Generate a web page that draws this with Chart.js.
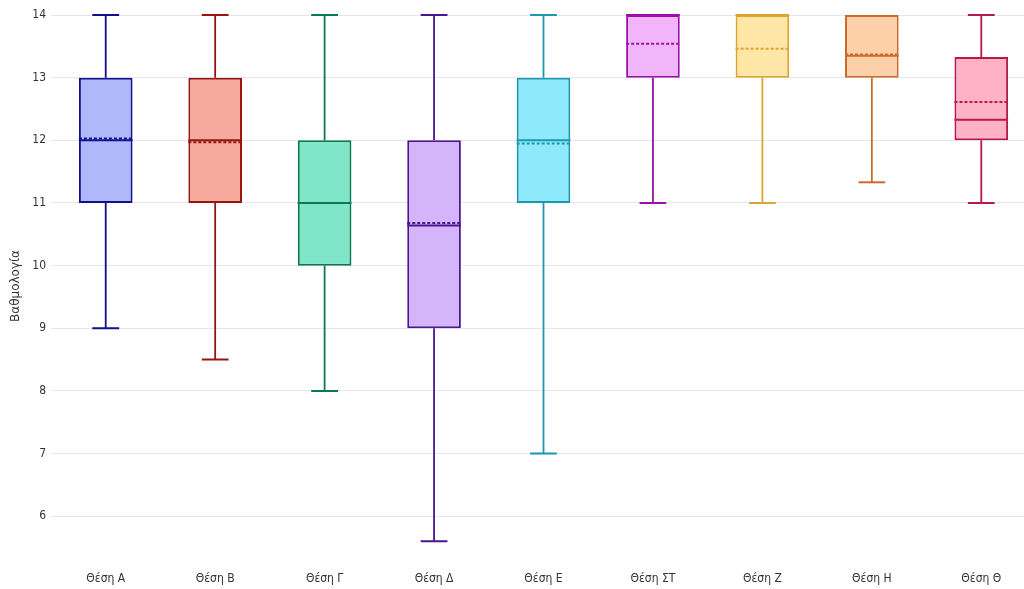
<!DOCTYPE html>
<html lang="el">
<head>
<meta charset="utf-8">
<title>Βαθμολογία ανά θέση</title>
<script src="https://cdn.jsdelivr.net/npm/chart.js@4.4.1/dist/chart.umd.min.js"></script>
<style>
    html, body { margin: 0; padding: 0; background: #fff; overflow: hidden; }
    #wrap { width: 1036px; height: 589px; }
</style>
</head>
<body>
<div id="wrap"><canvas id="boxChart" width="1036" height="589"></canvas></div>
<script>
// Κατηγορίες και στατιστικά ανά θέση
const labels = ['Θέση Α', 'Θέση Β', 'Θέση Γ', 'Θέση Δ', 'Θέση Ε', 'Θέση ΣΤ', 'Θέση Ζ', 'Θέση Η', 'Θέση Θ'];
const minValues = [9, 8.5, 8, 5.6, 7, 11, 11, 11.33, 11];
const q1Values = [11, 11, 10, 9, 11, 13, 13, 13, 12];
const medianValues = [12, 12, 11, 10.64, 12, 14, 14, 13.35, 12.33];
const meanValues = [12.03, 11.97, 11.0, 10.68, 11.95, 13.54, 13.46, 13.37, 12.61];
const q3Values = [13, 13, 12, 12, 13, 14, 14, 14, 13.33];
const maxValues = [14, 14, 14, 14, 14, 14, 14, 14, 14];
const yTicks = [6, 7, 8, 9, 10, 11, 12, 13, 14];

// Χρώματα
const strokeColors = ['#10108f', '#981410', '#0a7a4e', '#4c1590', '#1a98b0', '#9a10a8', '#dba530', '#cc6a28', '#b8184a'];
const fillColors = ['#b0b8fa', '#f6aa9e', '#80e6ca', '#d4b4fa', '#8eeafa', '#f2b4fa', '#fee6a6', '#fed0aa', '#ffb2c6'];

const fontFamily = '"DejaVu Sans Condensed", "Liberation Sans Narrow", "Roboto", sans-serif';

// Μουστάκια, διάμεσος και μέσος όρος πάνω από τα κουτιά
const boxExtras = {
    id: 'boxExtras',
    afterDatasetsDraw(chart) {
        const ctx = chart.ctx;
        const y = chart.scales.y;
        const meta = chart.getDatasetMeta(0);
        meta.data.forEach(function (bar, i) {
            const cx = bar.x;
            const half = bar.width / 2;
            const capHalf = half / 2;
            const color = strokeColors[i];
            const yMin = y.getPixelForValue(minValues[i]);
            const yMax = y.getPixelForValue(maxValues[i]);
            const yQ1 = y.getPixelForValue(q1Values[i]);
            const yQ3 = y.getPixelForValue(q3Values[i]);
            const yMed = y.getPixelForValue(medianValues[i]);
            const yMean = y.getPixelForValue(meanValues[i]);

            ctx.save();
            ctx.strokeStyle = color;

            // μουστάκια
            ctx.lineWidth = 1.8;
            ctx.beginPath();
            if (maxValues[i] > q3Values[i]) { ctx.moveTo(cx, yQ3); ctx.lineTo(cx, yMax); }
            if (minValues[i] < q1Values[i]) { ctx.moveTo(cx, yQ1); ctx.lineTo(cx, yMin); }
            ctx.stroke();

            // καπάκια
            ctx.lineWidth = 2;
            ctx.beginPath();
            if (maxValues[i] > q3Values[i]) { ctx.moveTo(cx - capHalf, yMax); ctx.lineTo(cx + capHalf, yMax); }
            if (minValues[i] < q1Values[i]) { ctx.moveTo(cx - capHalf, yMin); ctx.lineTo(cx + capHalf, yMin); }
            ctx.stroke();

            // διάμεσος
            ctx.lineWidth = 2;
            ctx.beginPath();
            ctx.moveTo(cx - half, yMed);
            ctx.lineTo(cx + half, yMed);
            ctx.stroke();

            // μέσος όρος (διακεκομμένη)
            ctx.setLineDash([3, 2]);
            ctx.beginPath();
            ctx.moveTo(cx - half, yMean);
            ctx.lineTo(cx + half, yMean);
            ctx.stroke();
            ctx.restore();
        });
    }
};

const canvas = document.getElementById('boxChart');
new Chart(canvas.getContext('2d'), {
    type: 'bar',
    data: {
        labels: labels,
        datasets: [{
            label: 'Βαθμολογία',
            data: q1Values.map((q1, i) => [q1, q3Values[i]]),
            backgroundColor: fillColors,
            borderColor: strokeColors,
            borderWidth: 2,
            borderSkipped: false,
            barPercentage: 0.49,
            categoryPercentage: 1
        }]
    },
    options: {
        responsive: false,
        animation: false,
        layout: { padding: { top: 15, right: 0, bottom: 0, left: 0 } },
        plugins: {
            legend: { display: false },
            tooltip: { enabled: false }
        },
        scales: {
            x: {
                afterFit(scale) {
                    scale.height = 32;
                },
                grid: { display: false },
                border: { display: false },
                ticks: {
                    color: '#333',
                    padding: 7,
                    maxRotation: 0,
                    font: { family: fontFamily, size: 12 }
                }
            },
            y: {
                min: 5.35,
                max: 14,
                afterBuildTicks(scale) {
                    scale.ticks = yTicks.map(v => ({ value: v }));
                },
                afterFit(scale) {
                    scale.width = 51;
                },
                grid: { color: '#e6e7ec', lineWidth: 1, drawTicks: false },
                border: { display: false },
                ticks: {
                    color: '#333',
                    padding: 5,
                    font: { family: fontFamily, size: 12 }
                },
                title: {
                    display: true,
                    text: 'Βαθμολογία',
                    color: '#333',
                    padding: { top: 9, bottom: 0 },
                    font: { family: '"DejaVu Sans", sans-serif', size: 12 }
                }
            }
        }
    },
    plugins: [boxExtras]
});
</script>
</body>
</html>
